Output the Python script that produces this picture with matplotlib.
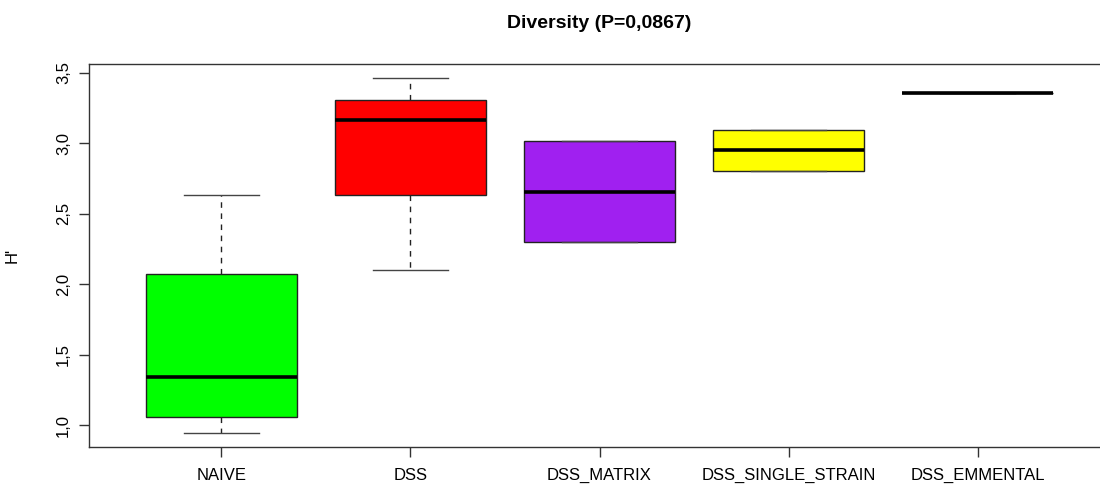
import matplotlib
matplotlib.use("Agg")
import matplotlib.pyplot as plt
from matplotlib.ticker import FuncFormatter

plt.rcParams['font.family'] = ['Liberation Sans', 'DejaVu Sans']

# five-number summaries
groups = ["NAIVE", "DSS", "DSS_MATRIX", "DSS_SINGLE_STRAIN", "DSS_EMMENTAL"]
whis_lo = [0.948, 2.098, 2.301, 2.800, 3.356]
q1 = [1.059, 2.630, 2.301, 2.800, 3.356]
median = [1.345, 3.162, 2.657, 2.950, 3.356]
q3 = [2.076, 3.309, 3.016, 3.096, 3.356]
whis_hi = [2.630, 3.460, 3.016, 3.096, 3.356]
colors = ["#00FF00", "#FF0000", "#A020F0", "#FFFF00", "#BEBEBE"]

stats = []
for i, g in enumerate(groups):
    stats.append(dict(label=g, whislo=whis_lo[i], q1=q1[i], med=median[i],
                      q3=q3[i], whishi=whis_hi[i], fliers=[]))

fig = plt.figure(figsize=(11, 4.86), dpi=100)
# R leaves the right part of the plot region off the picture
ax = fig.add_axes([89 / 1100, 1 - 447 / 486, 1021 / 1100, 383 / 486])

bp = ax.bxp(stats, positions=range(1, 6), widths=0.8, patch_artist=True,
            showfliers=False,
            boxprops=dict(edgecolor="#222222", linewidth=1.0),
            medianprops=dict(color="black", linewidth=2.6, solid_capstyle="butt"),
            whiskerprops=dict(color="#222222", linewidth=1.0, linestyle=(0, (4, 4))),
            capprops=dict(color="#444444", linewidth=1.0),
            capwidths=0.4)
for patch, c in zip(bp['boxes'], colors):
    patch.set_facecolor(c)

lo, hi = min(whis_lo), max(whis_hi)
pad = 0.04 * (hi - lo)
ax.set_ylim(lo - pad, hi + pad)
ax.set_xlim(0.3, 5.7)

ax.set_xticks(range(1, 6))
ax.set_xticklabels(groups, fontsize=12)
ax.set_yticks([1.0, 1.5, 2.0, 2.5, 3.0, 3.5])
ax.yaxis.set_major_formatter(FuncFormatter(lambda v, p: f"{v:.1f}".replace(".", ",")))
for lab in ax.get_yticklabels():
    lab.set_rotation(90)
    lab.set_verticalalignment("center")
    lab.set_fontsize(12)
ax.tick_params(axis="both", direction="out", length=7, width=1.0, color="#333333")
ax.tick_params(axis="x", pad=8)
ax.tick_params(axis="y", pad=6)
for s in ax.spines.values():
    s.set_color("#333333")
    s.set_linewidth(1.0)
ax.spines["right"].set_visible(False)

ax.set_ylabel("H'", fontsize=12)
ax.yaxis.set_label_coords(-0.068, 0.5)

fig.text(599 / 1100, 1 - 24 / 486, "Diversity (P=0,0867)", fontsize=14,
         fontweight="bold", ha="center", va="center")

fig.savefig("out.png", dpi=100)
